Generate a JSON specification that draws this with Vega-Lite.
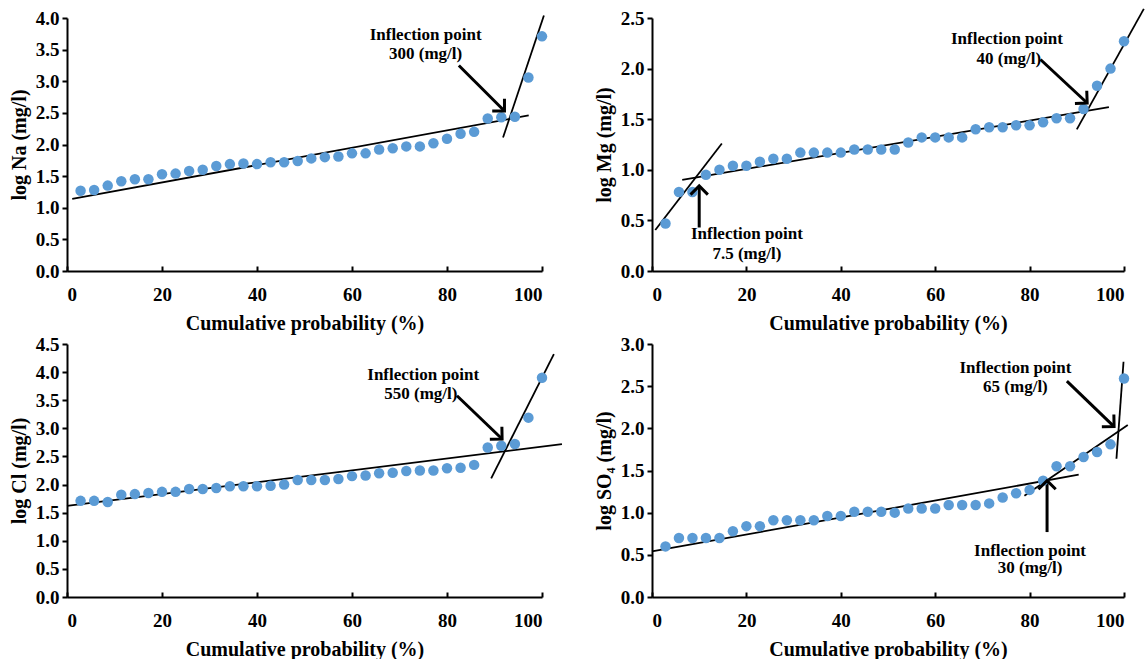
{
  "$schema": "https://vega.github.io/schema/vega-lite/v6.json",
  "padding": {"left": 9, "top": 7, "right": 0, "bottom": 0},
  "background": "white",
  "columns": 2,
  "bounds": "flush",
  "spacing": {"row": 73, "column": 110},
  "config": {
    "font": "Liberation Serif",
    "view": {"stroke": null},
    "axis": {
      "domainColor": "black", "domainWidth": 2, "tickColor": "black", "tickWidth": 2, "tickSize": 5,
      "grid": false, "labelFont": "Liberation Serif", "labelFontSize": 19, "labelFontWeight": "bold",
      "labelColor": "black", "titleFont": "Liberation Serif", "titleFontSize": 20, "titleFontWeight": "bold",
      "titleColor": "black", "labelPadding": 3
    },
    "axisX": {"tickSize": -5, "labelPadding": 19, "titlePadding": 9},
    "axisY": {"titlePadding": 6},
    "text": {"font": "Liberation Serif", "fontSize": 17, "fontWeight": "bold", "color": "black"}
  },
  "datasets": {
    "na": [
      {"p": 2.86, "v": 1.27}, {"p": 5.71, "v": 1.28}, {"p": 8.57, "v": 1.35}, {"p": 11.43, "v": 1.42}, {"p": 14.29, "v": 1.45},
      {"p": 17.14, "v": 1.45}, {"p": 20, "v": 1.53}, {"p": 22.86, "v": 1.54}, {"p": 25.71, "v": 1.58}, {"p": 28.57, "v": 1.6},
      {"p": 31.43, "v": 1.66}, {"p": 34.29, "v": 1.69}, {"p": 37.14, "v": 1.7}, {"p": 40, "v": 1.69}, {"p": 42.86, "v": 1.72},
      {"p": 45.71, "v": 1.72}, {"p": 48.57, "v": 1.74}, {"p": 51.43, "v": 1.78}, {"p": 54.29, "v": 1.8}, {"p": 57.14, "v": 1.81},
      {"p": 60, "v": 1.86}, {"p": 62.86, "v": 1.86}, {"p": 65.71, "v": 1.92}, {"p": 68.57, "v": 1.94}, {"p": 71.43, "v": 1.97},
      {"p": 74.29, "v": 1.97}, {"p": 77.14, "v": 2.02}, {"p": 80, "v": 2.09}, {"p": 82.86, "v": 2.17}, {"p": 85.71, "v": 2.2},
      {"p": 88.57, "v": 2.41}, {"p": 91.43, "v": 2.43}, {"p": 94.29, "v": 2.44}, {"p": 97.14, "v": 3.06}, {"p": 100, "v": 3.71}
    ],
    "mg": [
      {"p": 2.86, "v": 0.47}, {"p": 5.71, "v": 0.78}, {"p": 8.57, "v": 0.78}, {"p": 11.43, "v": 0.95}, {"p": 14.29, "v": 1.0},
      {"p": 17.14, "v": 1.04}, {"p": 20, "v": 1.04}, {"p": 22.86, "v": 1.08}, {"p": 25.71, "v": 1.11}, {"p": 28.57, "v": 1.11},
      {"p": 31.43, "v": 1.17}, {"p": 34.29, "v": 1.17}, {"p": 37.14, "v": 1.17}, {"p": 40, "v": 1.17}, {"p": 42.86, "v": 1.2},
      {"p": 45.71, "v": 1.2}, {"p": 48.57, "v": 1.2}, {"p": 51.43, "v": 1.2}, {"p": 54.29, "v": 1.27}, {"p": 57.14, "v": 1.32},
      {"p": 60, "v": 1.32}, {"p": 62.86, "v": 1.32}, {"p": 65.71, "v": 1.32}, {"p": 68.57, "v": 1.4}, {"p": 71.43, "v": 1.42},
      {"p": 74.29, "v": 1.42}, {"p": 77.14, "v": 1.44}, {"p": 80, "v": 1.44}, {"p": 82.86, "v": 1.47}, {"p": 85.71, "v": 1.51},
      {"p": 88.57, "v": 1.51}, {"p": 91.43, "v": 1.6}, {"p": 94.29, "v": 1.83}, {"p": 97.14, "v": 2.0}, {"p": 100, "v": 2.27}
    ],
    "cl": [
      {"p": 2.86, "v": 1.71}, {"p": 5.71, "v": 1.71}, {"p": 8.57, "v": 1.69}, {"p": 11.43, "v": 1.82}, {"p": 14.29, "v": 1.83},
      {"p": 17.14, "v": 1.85}, {"p": 20, "v": 1.87}, {"p": 22.86, "v": 1.87}, {"p": 25.71, "v": 1.92}, {"p": 28.57, "v": 1.92},
      {"p": 31.43, "v": 1.94}, {"p": 34.29, "v": 1.97}, {"p": 37.14, "v": 1.97}, {"p": 40, "v": 1.97}, {"p": 42.86, "v": 1.98},
      {"p": 45.71, "v": 2.0}, {"p": 48.57, "v": 2.08}, {"p": 51.43, "v": 2.08}, {"p": 54.29, "v": 2.08}, {"p": 57.14, "v": 2.1},
      {"p": 60, "v": 2.15}, {"p": 62.86, "v": 2.16}, {"p": 65.71, "v": 2.2}, {"p": 68.57, "v": 2.21}, {"p": 71.43, "v": 2.24},
      {"p": 74.29, "v": 2.25}, {"p": 77.14, "v": 2.25}, {"p": 80, "v": 2.29}, {"p": 82.86, "v": 2.3}, {"p": 85.71, "v": 2.35},
      {"p": 88.57, "v": 2.66}, {"p": 91.43, "v": 2.69}, {"p": 94.29, "v": 2.72}, {"p": 97.14, "v": 3.19}, {"p": 100, "v": 3.9}
    ],
    "so4": [
      {"p": 2.86, "v": 0.6}, {"p": 5.71, "v": 0.7}, {"p": 8.57, "v": 0.7}, {"p": 11.43, "v": 0.7}, {"p": 14.29, "v": 0.7},
      {"p": 17.14, "v": 0.78}, {"p": 20, "v": 0.84}, {"p": 22.86, "v": 0.84}, {"p": 25.71, "v": 0.91}, {"p": 28.57, "v": 0.91},
      {"p": 31.43, "v": 0.91}, {"p": 34.29, "v": 0.91}, {"p": 37.14, "v": 0.96}, {"p": 40, "v": 0.96}, {"p": 42.86, "v": 1.01},
      {"p": 45.71, "v": 1.01}, {"p": 48.57, "v": 1.01}, {"p": 51.43, "v": 1.0}, {"p": 54.29, "v": 1.05}, {"p": 57.14, "v": 1.05},
      {"p": 60, "v": 1.05}, {"p": 62.86, "v": 1.09}, {"p": 65.71, "v": 1.09}, {"p": 68.57, "v": 1.09}, {"p": 71.43, "v": 1.11},
      {"p": 74.29, "v": 1.18}, {"p": 77.14, "v": 1.23}, {"p": 80, "v": 1.27}, {"p": 82.86, "v": 1.38}, {"p": 85.71, "v": 1.55},
      {"p": 88.57, "v": 1.55}, {"p": 91.43, "v": 1.66}, {"p": 94.29, "v": 1.72}, {"p": 97.14, "v": 1.81}, {"p": 100, "v": 2.59}
    ],
    "na_fit": [
      {"x": 1.1, "y": 1.14, "x2": 97.2, "y2": 2.46},
      {"x": 91.8, "y": 2.11, "x2": 100.4, "y2": 4.04}
    ],
    "na_arrow": [{"id": "300", "x": 82.5, "y": 3.25, "x2": 92.1, "y2": 2.53}],
    "na_text": [
      {"x": 75.5, "y": 3.73, "t": "Inflection point"},
      {"x": 75.5, "y": 3.43, "t": "300 (mg/l)"}
    ],
    "mg_fit": [
      {"x": 0.7, "y": 0.405, "x2": 14.8, "y2": 1.26},
      {"x": 6.4, "y": 0.9, "x2": 96.8, "y2": 1.62},
      {"x": 90, "y": 1.4, "x2": 104.2, "y2": 2.59}
    ],
    "mg_arrow": [
      {"id": "40", "x": 82.3, "y": 2.09, "x2": 92.2, "y2": 1.66},
      {"id": "7.5", "x": 10.0, "y": 0.43, "x2": 10.0, "y2": 0.84}
    ],
    "mg_text": [
      {"x": 75.2, "y": 2.29, "t": "Inflection point"},
      {"x": 75.6, "y": 2.09, "t": "40 (mg/l)"},
      {"x": 20.1, "y": 0.365, "t": "Inflection point"},
      {"x": 20.1, "y": 0.17, "t": "7.5 (mg/l)"}
    ],
    "cl_fit": [
      {"x": 0, "y": 1.62, "x2": 104.2, "y2": 2.72},
      {"x": 89.3, "y": 2.11, "x2": 102.5, "y2": 4.32}
    ],
    "cl_arrow": [{"id": "550", "x": 82.1, "y": 3.58, "x2": 91.6, "y2": 2.81}],
    "cl_text": [
      {"x": 75, "y": 3.95, "t": "Inflection point"},
      {"x": 74.5, "y": 3.61, "t": "550 (mg/l)"}
    ],
    "so4_fit": [
      {"x": 0, "y": 0.54, "x2": 90.4, "y2": 1.45},
      {"x": 78.9, "y": 1.2, "x2": 100.8, "y2": 2.04},
      {"x": 98.4, "y": 1.64, "x2": 99.9, "y2": 2.79}
    ],
    "so4_arrow": [
      {"id": "65", "x": 87.9, "y": 2.56, "x2": 97.9, "y2": 2.02},
      {"id": "30", "x": 83.7, "y": 0.77, "x2": 83.7, "y2": 1.38}
    ],
    "so4_text": [
      {"x": 77, "y": 2.72, "t": "Inflection point"},
      {"x": 77, "y": 2.49, "t": "65 (mg/l)"},
      {"x": 80.1, "y": 0.55, "t": "Inflection point"},
      {"x": 80.1, "y": 0.34, "t": "30 (mg/l)"}
    ]
  },
  "concat": [
    {
      "width": 475, "height": 253,
      "layer": [
        {"data": {"name": "na_fit"}, "mark": {"type": "rule", "color": "black", "strokeWidth": 1.8},
         "encoding": {
           "x": {"field": "x", "type": "quantitative", "scale": {"domain": [0, 100], "nice": false}, "axis": {"title": "Cumulative probability (%)", "values": [0, 20, 40, 60, 80, 100]}},
           "y": {"field": "y", "type": "quantitative", "scale": {"domain": [0, 4], "nice": false}, "axis": {"title": "log Na (mg/l)", "format": ".1f", "values": [0, 0.5, 1, 1.5, 2, 2.5, 3, 3.5, 4]}},
           "x2": {"field": "x2"}, "y2": {"field": "y2"}}},
        {"data": {"name": "na_arrow"}, "mark": {"type": "rule", "color": "black", "strokeWidth": 3},
         "encoding": {
           "x": {"field": "x", "type": "quantitative", "axis": {"title": "Cumulative probability (%)", "values": [0, 20, 40, 60, 80, 100]}},
           "y": {"field": "y", "type": "quantitative", "axis": {"title": "log Na (mg/l)", "format": ".1f", "values": [0, 0.5, 1, 1.5, 2, 2.5, 3, 3.5, 4]}},
           "x2": {"field": "x2"}, "y2": {"field": "y2"}}},
        {"data": {"name": "na"}, "mark": {"type": "circle", "color": "#5B9BD5", "size": 110, "opacity": 1},
         "encoding": {
           "x": {"field": "p", "type": "quantitative", "axis": {"title": "Cumulative probability (%)", "values": [0, 20, 40, 60, 80, 100]}},
           "y": {"field": "v", "type": "quantitative", "axis": {"title": "log Na (mg/l)", "format": ".1f", "values": [0, 0.5, 1, 1.5, 2, 2.5, 3, 3.5, 4]}}}},
        {"data": {"name": "na_arrow"}, "mark": {"type": "point", "shape": "M -1 -1 L 0 0 L -1 1", "filled": false, "stroke": "black", "strokeWidth": 3, "size": 300, "angle": 45, "opacity": 1},
         "encoding": {
           "x": {"field": "x2", "type": "quantitative", "axis": {"title": "Cumulative probability (%)", "values": [0, 20, 40, 60, 80, 100]}},
           "y": {"field": "y2", "type": "quantitative", "axis": {"title": "log Na (mg/l)", "format": ".1f", "values": [0, 0.5, 1, 1.5, 2, 2.5, 3, 3.5, 4]}}}},
        {"data": {"name": "na_text"}, "mark": {"type": "text"},
         "encoding": {
           "x": {"field": "x", "type": "quantitative", "axis": {"title": "Cumulative probability (%)", "values": [0, 20, 40, 60, 80, 100]}},
           "y": {"field": "y", "type": "quantitative", "axis": {"title": "log Na (mg/l)", "format": ".1f", "values": [0, 0.5, 1, 1.5, 2, 2.5, 3, 3.5, 4]}},
           "text": {"field": "t"}}}
      ]
    },
    {
      "width": 472, "height": 253,
      "layer": [
        {"data": {"name": "mg_fit"}, "mark": {"type": "rule", "color": "black", "strokeWidth": 1.8},
         "encoding": {
           "x": {"field": "x", "type": "quantitative", "scale": {"domain": [0, 100], "nice": false}, "axis": {"title": "Cumulative probability (%)", "values": [0, 20, 40, 60, 80, 100]}},
           "y": {"field": "y", "type": "quantitative", "scale": {"domain": [0, 2.5], "nice": false}, "axis": {"title": "log Mg (mg/l)", "format": ".1f", "values": [0, 0.5, 1, 1.5, 2, 2.5]}},
           "x2": {"field": "x2"}, "y2": {"field": "y2"}}},
        {"data": {"name": "mg_arrow"}, "mark": {"type": "rule", "color": "black", "strokeWidth": 3},
         "encoding": {
           "x": {"field": "x", "type": "quantitative", "axis": {"title": "Cumulative probability (%)", "values": [0, 20, 40, 60, 80, 100]}},
           "y": {"field": "y", "type": "quantitative", "axis": {"title": "log Mg (mg/l)", "format": ".1f", "values": [0, 0.5, 1, 1.5, 2, 2.5]}},
           "x2": {"field": "x2"}, "y2": {"field": "y2"}}},
        {"data": {"name": "mg"}, "mark": {"type": "circle", "color": "#5B9BD5", "size": 110, "opacity": 1},
         "encoding": {
           "x": {"field": "p", "type": "quantitative", "axis": {"title": "Cumulative probability (%)", "values": [0, 20, 40, 60, 80, 100]}},
           "y": {"field": "v", "type": "quantitative", "axis": {"title": "log Mg (mg/l)", "format": ".1f", "values": [0, 0.5, 1, 1.5, 2, 2.5]}}}},
        {"data": {"name": "mg_arrow"}, "transform": [{"filter": "datum.id == '40'"}],
         "mark": {"type": "point", "shape": "M -1 -1 L 0 0 L -1 1", "filled": false, "stroke": "black", "strokeWidth": 3, "size": 300, "angle": 43, "opacity": 1},
         "encoding": {
           "x": {"field": "x2", "type": "quantitative", "axis": {"title": "Cumulative probability (%)", "values": [0, 20, 40, 60, 80, 100]}},
           "y": {"field": "y2", "type": "quantitative", "axis": {"title": "log Mg (mg/l)", "format": ".1f", "values": [0, 0.5, 1, 1.5, 2, 2.5]}}}},
        {"data": {"name": "mg_arrow"}, "transform": [{"filter": "datum.id == '7.5'"}],
         "mark": {"type": "point", "shape": "M -1 -1 L 0 0 L -1 1", "filled": false, "stroke": "black", "strokeWidth": 3, "size": 300, "angle": 270, "opacity": 1},
         "encoding": {
           "x": {"field": "x2", "type": "quantitative", "axis": {"title": "Cumulative probability (%)", "values": [0, 20, 40, 60, 80, 100]}},
           "y": {"field": "y2", "type": "quantitative", "axis": {"title": "log Mg (mg/l)", "format": ".1f", "values": [0, 0.5, 1, 1.5, 2, 2.5]}}}},
        {"data": {"name": "mg_text"}, "mark": {"type": "text"},
         "encoding": {
           "x": {"field": "x", "type": "quantitative", "axis": {"title": "Cumulative probability (%)", "values": [0, 20, 40, 60, 80, 100]}},
           "y": {"field": "y", "type": "quantitative", "axis": {"title": "log Mg (mg/l)", "format": ".1f", "values": [0, 0.5, 1, 1.5, 2, 2.5]}},
           "text": {"field": "t"}}}
      ]
    },
    {
      "width": 475, "height": 253,
      "layer": [
        {"data": {"name": "cl_fit"}, "mark": {"type": "rule", "color": "black", "strokeWidth": 1.8},
         "encoding": {
           "x": {"field": "x", "type": "quantitative", "scale": {"domain": [0, 100], "nice": false}, "axis": {"title": "Cumulative probability (%)", "values": [0, 20, 40, 60, 80, 100]}},
           "y": {"field": "y", "type": "quantitative", "scale": {"domain": [0, 4.5], "nice": false}, "axis": {"title": "log Cl (mg/l)", "format": ".1f", "values": [0, 0.5, 1, 1.5, 2, 2.5, 3, 3.5, 4, 4.5]}},
           "x2": {"field": "x2"}, "y2": {"field": "y2"}}},
        {"data": {"name": "cl_arrow"}, "mark": {"type": "rule", "color": "black", "strokeWidth": 3},
         "encoding": {
           "x": {"field": "x", "type": "quantitative", "axis": {"title": "Cumulative probability (%)", "values": [0, 20, 40, 60, 80, 100]}},
           "y": {"field": "y", "type": "quantitative", "axis": {"title": "log Cl (mg/l)", "format": ".1f", "values": [0, 0.5, 1, 1.5, 2, 2.5, 3, 3.5, 4, 4.5]}},
           "x2": {"field": "x2"}, "y2": {"field": "y2"}}},
        {"data": {"name": "cl"}, "mark": {"type": "circle", "color": "#5B9BD5", "size": 110, "opacity": 1},
         "encoding": {
           "x": {"field": "p", "type": "quantitative", "axis": {"title": "Cumulative probability (%)", "values": [0, 20, 40, 60, 80, 100]}},
           "y": {"field": "v", "type": "quantitative", "axis": {"title": "log Cl (mg/l)", "format": ".1f", "values": [0, 0.5, 1, 1.5, 2, 2.5, 3, 3.5, 4, 4.5]}}}},
        {"data": {"name": "cl_arrow"}, "mark": {"type": "point", "shape": "M -1 -1 L 0 0 L -1 1", "filled": false, "stroke": "black", "strokeWidth": 3, "size": 300, "angle": 44, "opacity": 1},
         "encoding": {
           "x": {"field": "x2", "type": "quantitative", "axis": {"title": "Cumulative probability (%)", "values": [0, 20, 40, 60, 80, 100]}},
           "y": {"field": "y2", "type": "quantitative", "axis": {"title": "log Cl (mg/l)", "format": ".1f", "values": [0, 0.5, 1, 1.5, 2, 2.5, 3, 3.5, 4, 4.5]}}}},
        {"data": {"name": "cl_text"}, "mark": {"type": "text"},
         "encoding": {
           "x": {"field": "x", "type": "quantitative", "axis": {"title": "Cumulative probability (%)", "values": [0, 20, 40, 60, 80, 100]}},
           "y": {"field": "y", "type": "quantitative", "axis": {"title": "log Cl (mg/l)", "format": ".1f", "values": [0, 0.5, 1, 1.5, 2, 2.5, 3, 3.5, 4, 4.5]}},
           "text": {"field": "t"}}}
      ]
    },
    {
      "width": 472, "height": 253,
      "layer": [
        {"data": {"name": "so4_fit"}, "mark": {"type": "rule", "color": "black", "strokeWidth": 1.8},
         "encoding": {
           "x": {"field": "x", "type": "quantitative", "scale": {"domain": [0, 100], "nice": false}, "axis": {"title": "Cumulative probability (%)", "values": [0, 20, 40, 60, 80, 100]}},
           "y": {"field": "y", "type": "quantitative", "scale": {"domain": [0, 3], "nice": false}, "axis": {"title": "log SO₄ (mg/l)", "format": ".1f", "values": [0, 0.5, 1, 1.5, 2, 2.5, 3]}},
           "x2": {"field": "x2"}, "y2": {"field": "y2"}}},
        {"data": {"name": "so4_arrow"}, "mark": {"type": "rule", "color": "black", "strokeWidth": 3},
         "encoding": {
           "x": {"field": "x", "type": "quantitative", "axis": {"title": "Cumulative probability (%)", "values": [0, 20, 40, 60, 80, 100]}},
           "y": {"field": "y", "type": "quantitative", "axis": {"title": "log SO₄ (mg/l)", "format": ".1f", "values": [0, 0.5, 1, 1.5, 2, 2.5, 3]}},
           "x2": {"field": "x2"}, "y2": {"field": "y2"}}},
        {"data": {"name": "so4"}, "mark": {"type": "circle", "color": "#5B9BD5", "size": 110, "opacity": 1},
         "encoding": {
           "x": {"field": "p", "type": "quantitative", "axis": {"title": "Cumulative probability (%)", "values": [0, 20, 40, 60, 80, 100]}},
           "y": {"field": "v", "type": "quantitative", "axis": {"title": "log SO₄ (mg/l)", "format": ".1f", "values": [0, 0.5, 1, 1.5, 2, 2.5, 3]}}}},
        {"data": {"name": "so4_arrow"}, "transform": [{"filter": "datum.id == '65'"}],
         "mark": {"type": "point", "shape": "M -1 -1 L 0 0 L -1 1", "filled": false, "stroke": "black", "strokeWidth": 3, "size": 300, "angle": 44, "opacity": 1},
         "encoding": {
           "x": {"field": "x2", "type": "quantitative", "axis": {"title": "Cumulative probability (%)", "values": [0, 20, 40, 60, 80, 100]}},
           "y": {"field": "y2", "type": "quantitative", "axis": {"title": "log SO₄ (mg/l)", "format": ".1f", "values": [0, 0.5, 1, 1.5, 2, 2.5, 3]}}}},
        {"data": {"name": "so4_arrow"}, "transform": [{"filter": "datum.id == '30'"}],
         "mark": {"type": "point", "shape": "M -1 -1 L 0 0 L -1 1", "filled": false, "stroke": "black", "strokeWidth": 3, "size": 300, "angle": 270, "opacity": 1},
         "encoding": {
           "x": {"field": "x2", "type": "quantitative", "axis": {"title": "Cumulative probability (%)", "values": [0, 20, 40, 60, 80, 100]}},
           "y": {"field": "y2", "type": "quantitative", "axis": {"title": "log SO₄ (mg/l)", "format": ".1f", "values": [0, 0.5, 1, 1.5, 2, 2.5, 3]}}}},
        {"data": {"name": "so4_text"}, "mark": {"type": "text"},
         "encoding": {
           "x": {"field": "x", "type": "quantitative", "axis": {"title": "Cumulative probability (%)", "values": [0, 20, 40, 60, 80, 100]}},
           "y": {"field": "y", "type": "quantitative", "axis": {"title": "log SO₄ (mg/l)", "format": ".1f", "values": [0, 0.5, 1, 1.5, 2, 2.5, 3]}},
           "text": {"field": "t"}}}
      ]
    }
  ]
}
